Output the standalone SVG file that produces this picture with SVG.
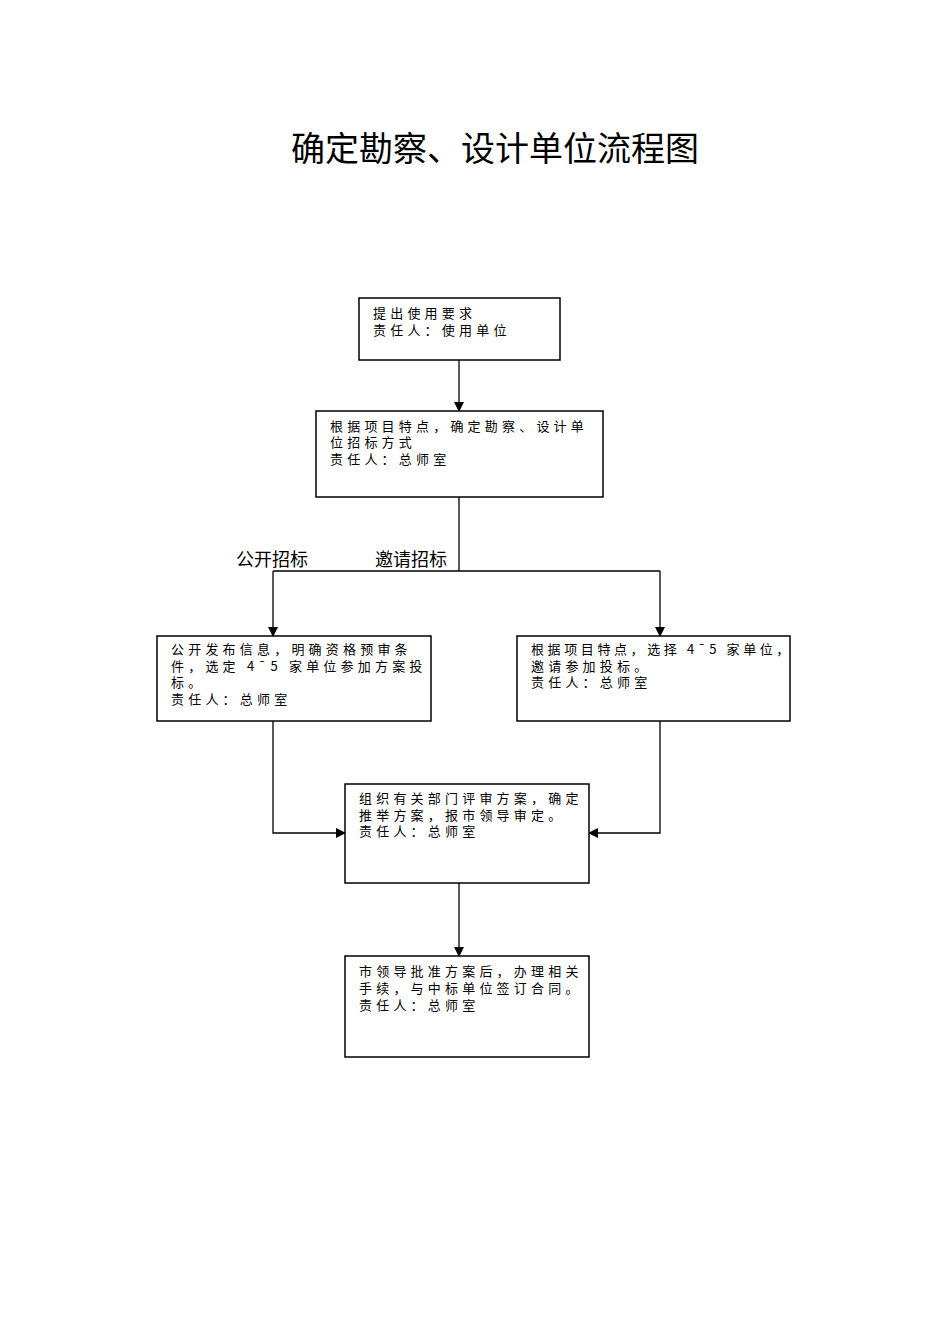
<svg xmlns="http://www.w3.org/2000/svg" width="950" height="1344" viewBox="0 0 950 1344">
<style>
.b{fill:#fff;stroke:#000;stroke-width:1.5}
.t{font-family:"Noto Sans CJK SC","Liberation Serif",serif;font-size:13px;letter-spacing:4.2px;fill:#000}
.l{fill:none;stroke:#000;stroke-width:1.3}
.g{font-family:"Noto Sans CJK SC",sans-serif;font-size:18px}
</style>
<defs><marker id="a" markerWidth="10" markerHeight="10" refX="9" refY="5" orient="auto" markerUnits="userSpaceOnUse"><path d="M0,0L10,5L0,10z" fill="#000"/></marker></defs>
<rect width="950" height="1344" fill="#fff"/>
<text x="495" y="161" text-anchor="middle" font-family="Noto Sans CJK SC,sans-serif" font-size="34">确定勘察、设计单位流程图</text>
<g id="connectors">
<path class="l" d="M459,360V411" marker-end="url(#a)"/>
<path class="l" d="M459,497V571M273,571H660"/>
<path class="l" d="M273,571V636" marker-end="url(#a)"/>
<path class="l" d="M660,571V636" marker-end="url(#a)"/>
<path class="l" d="M273,721V833H345" marker-end="url(#a)"/>
<path class="l" d="M660,721V833H589" marker-end="url(#a)"/>
<path class="l" d="M459,883V956" marker-end="url(#a)"/>
<text class="g" x="236" y="566">公开招标</text>
<text class="g" x="375" y="566">邀请招标</text>
</g>
<g id="n1"><rect class="b" x="359" y="298" width="201" height="62"/><text class="t" x="373" y="318">提出使用要求</text><text class="t" x="373" y="335">责任人：使用单位</text></g>
<g id="n2"><rect class="b" x="316" y="411" width="287" height="86"/><text class="t" x="330" y="431">根据项目特点，确定勘察、设计单</text><text class="t" x="330" y="447">位招标方式</text><text class="t" x="330" y="464">责任人：总师室</text></g>
<g id="n3"><rect class="b" x="157" y="636" width="274" height="85"/><text class="t" x="171" y="654">公开发布信息，明确资格预审条</text><text class="t" x="171" y="671">件，选定 4¯5 家单位参加方案投</text><text class="t" x="171" y="687">标。</text><text class="t" x="171" y="704">责任人：总师室</text></g>
<g id="n4"><rect class="b" x="517" y="636" width="273" height="85"/><text class="t" x="531" y="654" style="letter-spacing:3.6px">根据项目特点，选择 4¯5 家单位，</text><text class="t" x="531" y="671">邀请参加投标。</text><text class="t" x="531" y="687">责任人：总师室</text></g>
<g id="n5"><rect class="b" x="345" y="784" width="244" height="99"/><text class="t" x="359" y="803">组织有关部门评审方案，确定</text><text class="t" x="359" y="820">推举方案，报市领导审定。</text><text class="t" x="359" y="836">责任人：总师室</text></g>
<g id="n6"><rect class="b" x="345" y="956" width="244" height="101"/><text class="t" x="359" y="976">市领导批准方案后，办理相关</text><text class="t" x="359" y="993">手续，与中标单位签订合同。</text><text class="t" x="359" y="1010">责任人：总师室</text></g>
</svg>
